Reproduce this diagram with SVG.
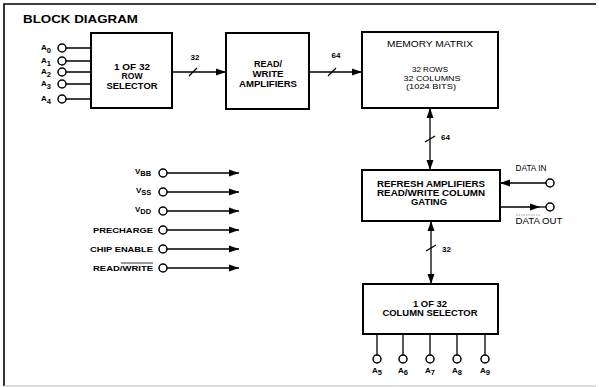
<svg xmlns="http://www.w3.org/2000/svg" width="599" height="387" viewBox="0 0 599 387">
<style>
.box{fill:#fff;stroke:#000;stroke-width:2}
.ln{fill:none;stroke:#000;stroke-width:1.3}
.pin{fill:#fff;stroke:#000;stroke-width:1.5}
text{font-family:"Liberation Sans",Arial,sans-serif;fill:#000}
.b{font-weight:bold;font-size:8.5px}
.n{font-size:8.5px}
.m{font-size:8px}
.s{font-weight:bold;font-size:8px}
.c{text-anchor:middle}
</style>
<defs>
<marker id="arr" markerUnits="userSpaceOnUse" markerWidth="10" markerHeight="8" refX="10" refY="3.5" orient="auto-start-reverse" viewBox="0 0 10 7">
<path d="M0,0 L10,3.5 L0,7 z" fill="#000"/>
</marker>
</defs>
<rect width="599" height="387" fill="#fff"/>
<path d="M4,386 V4 H596" fill="none" stroke="#000" stroke-width="1.6"/>
<path d="M4,386 H596" fill="none" stroke="#bbb" stroke-width="1"/>
<text x="23" y="23" font-size="11" font-weight="bold" textLength="115" lengthAdjust="spacingAndGlyphs">BLOCK DIAGRAM</text>

<g id="connectors">
<path class="ln" d="M172,72 H226" marker-end="url(#arr)"/>
<path class="ln" d="M189,76 L197,68"/>
<text class="s c" x="195" y="60">32</text>
<path class="ln" d="M309,72 H362" marker-end="url(#arr)"/>
<path class="ln" d="M328,76 L336,68"/>
<text class="s c" x="336" y="58">64</text>
<path class="ln" d="M430,108 V170" marker-start="url(#arr)" marker-end="url(#arr)"/>
<path class="ln" d="M425,142 L435,136"/>
<text class="s" x="441" y="140">64</text>
<path class="ln" d="M431,221 V284" marker-start="url(#arr)" marker-end="url(#arr)"/>
<path class="ln" d="M426,251 L436,245"/>
<text class="s" x="442" y="252">32</text>
<path class="ln" d="M546,183 H500" marker-end="url(#arr)"/>
<path class="ln" d="M500,207 H540" marker-end="url(#arr)"/>
<path class="ln" d="M540,207 H546"/>
<path class="ln" d="M66,48 H91 M66,61 H91 M66,72 H91 M66,84 H91 M66,99 H91"/>
<path class="ln" d="M167,173 H239" marker-end="url(#arr)"/>
<path class="ln" d="M167,192 H239" marker-end="url(#arr)"/>
<path class="ln" d="M167,211 H239" marker-end="url(#arr)"/>
<path class="ln" d="M167,230 H239" marker-end="url(#arr)"/>
<path class="ln" d="M167,249 H239" marker-end="url(#arr)"/>
<path class="ln" d="M167,268 H239" marker-end="url(#arr)"/>
<path class="ln" d="M377,334 V355 M403,334 V355 M430,334 V355 M457,334 V355 M485,334 V355"/>
</g>

<g id="row-selector">
<rect class="box" x="91" y="33" width="81" height="75"/>
<text class="b c" x="132" y="70" textLength="36" lengthAdjust="spacingAndGlyphs">1 OF 32</text>
<text class="b c" x="132" y="79" textLength="21" lengthAdjust="spacingAndGlyphs">ROW</text>
<text class="b c" x="132" y="89" textLength="51" lengthAdjust="spacingAndGlyphs">SELECTOR</text>
</g>

<g id="address-inputs">
<circle class="pin" cx="62" cy="48" r="4"/>
<circle class="pin" cx="62" cy="61" r="4"/>
<circle class="pin" cx="62" cy="72" r="4"/>
<circle class="pin" cx="62" cy="84" r="4"/>
<circle class="pin" cx="62" cy="99" r="4"/>
<text class="s" x="41" y="50">A<tspan dy="3" font-size="7.5">0</tspan></text>
<text class="s" x="41" y="63">A<tspan dy="3" font-size="7.5">1</tspan></text>
<text class="s" x="41" y="74">A<tspan dy="3" font-size="7.5">2</tspan></text>
<text class="s" x="41" y="86">A<tspan dy="3" font-size="7.5">3</tspan></text>
<text class="s" x="41" y="101">A<tspan dy="3" font-size="7.5">4</tspan></text>
</g>

<g id="read-write-amplifiers">
<rect class="box" x="226" y="33" width="83" height="76"/>
<text class="b c" x="268" y="67" textLength="28" lengthAdjust="spacingAndGlyphs">READ/</text>
<text class="b c" x="268" y="77" textLength="31" lengthAdjust="spacingAndGlyphs">WRITE</text>
<text class="b c" x="268" y="87" textLength="58" lengthAdjust="spacingAndGlyphs">AMPLIFIERS</text>
</g>

<g id="memory-matrix">
<rect class="box" x="362" y="32" width="136" height="76"/>
<text class="n c" x="430" y="47" textLength="86" lengthAdjust="spacingAndGlyphs">MEMORY MATRIX</text>
<text class="m c" x="430" y="72" textLength="36" lengthAdjust="spacingAndGlyphs">32 ROWS</text>
<text class="m c" x="432" y="80.5" textLength="57" lengthAdjust="spacingAndGlyphs">32 COLUMNS</text>
<text class="m c" x="431" y="89" textLength="50" lengthAdjust="spacingAndGlyphs">(1024 BITS)</text>
</g>

<g id="refresh-amplifiers">
<rect class="box" x="362" y="170" width="138" height="51"/>
<text class="b c" x="431" y="187" textLength="108" lengthAdjust="spacingAndGlyphs">REFRESH AMPLIFIERS</text>
<text class="b c" x="431" y="196" textLength="108" lengthAdjust="spacingAndGlyphs">READ/WRITE COLUMN</text>
<text class="b c" x="429" y="205" textLength="36" lengthAdjust="spacingAndGlyphs">GATING</text>
</g>

<g id="data-in">
<circle class="pin" cx="550" cy="183" r="4"/>
<text class="n c" x="531" y="171" textLength="31" lengthAdjust="spacingAndGlyphs">DATA IN</text>
</g>

<g id="data-out">
<circle class="pin" cx="550" cy="207" r="4"/>
<path d="M516,215 H540" stroke="#777" stroke-width="0.7" stroke-dasharray="1.5,1"/>
<text class="n c" x="539" y="224" textLength="47" lengthAdjust="spacingAndGlyphs">DATA OUT</text>
</g>

<g id="control-inputs">
<circle class="pin" cx="163" cy="173" r="4"/>
<circle class="pin" cx="163" cy="192" r="4"/>
<circle class="pin" cx="163" cy="211" r="4"/>
<circle class="pin" cx="163" cy="230" r="4"/>
<circle class="pin" cx="163" cy="249" r="4"/>
<circle class="pin" cx="163" cy="268" r="4"/>
<text class="s" x="135" y="174">V<tspan dy="2" font-size="7.5">BB</tspan></text>
<text class="s" x="136" y="193">V<tspan dy="2" font-size="7.5">SS</tspan></text>
<text class="s" x="135" y="212">V<tspan dy="2" font-size="7.5">DD</tspan></text>
<text class="s" x="93" y="233" textLength="60" lengthAdjust="spacingAndGlyphs">PRECHARGE</text>
<text class="s" x="90" y="252" textLength="63" lengthAdjust="spacingAndGlyphs">CHIP ENABLE</text>
<text class="s" x="93" y="271" textLength="60" lengthAdjust="spacingAndGlyphs">READ/WRITE</text>
<path d="M121,263 H153" stroke="#000" stroke-width="0.8"/>
</g>

<g id="column-selector">
<rect class="box" x="363" y="284" width="135" height="50"/>
<text class="b c" x="430" y="307" textLength="34" lengthAdjust="spacingAndGlyphs">1 OF 32</text>
<text class="b c" x="430" y="316" textLength="95" lengthAdjust="spacingAndGlyphs">COLUMN SELECTOR</text>
</g>

<g id="column-address-inputs">
<circle class="pin" cx="377" cy="359" r="4"/>
<circle class="pin" cx="403" cy="359" r="4"/>
<circle class="pin" cx="430" cy="359" r="4"/>
<circle class="pin" cx="457" cy="359" r="4"/>
<circle class="pin" cx="485" cy="359" r="4"/>
<text class="s" x="372" y="373">A<tspan dy="2" font-size="7.5">5</tspan></text>
<text class="s" x="398" y="373">A<tspan dy="2" font-size="7.5">6</tspan></text>
<text class="s" x="425" y="373">A<tspan dy="2" font-size="7.5">7</tspan></text>
<text class="s" x="452" y="373">A<tspan dy="2" font-size="7.5">8</tspan></text>
<text class="s" x="480" y="373">A<tspan dy="2" font-size="7.5">9</tspan></text>
</g>
</svg>
